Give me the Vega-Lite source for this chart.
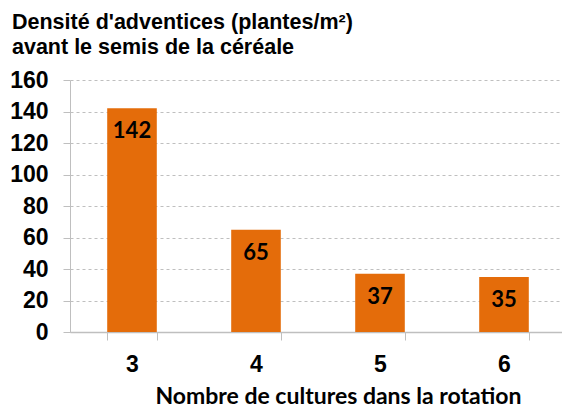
{
  "$schema": "https://vega.github.io/schema/vega-lite/v6.json",
  "width": 496,
  "height": 252,
  "autosize": "none",
  "padding": {"left": 70, "top": 80, "right": 0, "bottom": 76},
  "background": "white",
  "config": {"view": {"stroke": null}},
  "title": {
    "text": ["Densité d'adventices (plantes/m²)", "avant le semis de la céréale"],
    "anchor": "start",
    "frame": "group",
    "dx": -58,
    "offset": 11,
    "font": "Liberation Sans",
    "fontSize": 21.5,
    "fontWeight": "bold",
    "lineHeight": 25,
    "color": "black"
  },
  "data": {
    "values": [
      {"cultures": "3", "densite": 142},
      {"cultures": "4", "densite": 65},
      {"cultures": "5", "densite": 37},
      {"cultures": "6", "densite": 35}
    ]
  },
  "encoding": {
    "x": {
      "field": "cultures",
      "type": "ordinal",
      "scale": {"paddingInner": 0.6, "paddingOuter": 0.3},
      "axis": {
        "title": "Nombre de cultures dans la rotation",
        "titleFont": "Lato",
        "titleFontSize": 23,
        "titleFontWeight": "bold",
        "titleColor": "black",
        "titleX": 268,
        "titleY": 71,
        "titleAlign": "center",
        "titleBaseline": "alphabetic",
        "labelAngle": 0,
        "labelFont": "Liberation Sans",
        "labelFontSize": 23,
        "labelFontWeight": "bold",
        "labelColor": "black",
        "labelPadding": 13,
        "tickBand": "extent",
        "tickSize": 8,
        "tickColor": "#bfbfbf",
        "domainColor": "#bfbfbf",
        "domainWidth": 1.5
      }
    },
    "y": {
      "field": "densite",
      "type": "quantitative",
      "scale": {"domain": [0, 160], "nice": false},
      "axis": {
        "title": null,
        "values": [0, 20, 40, 60, 80, 100, 120, 140, 160],
        "labelFont": "Liberation Sans",
        "labelFontSize": 23,
        "labelFontWeight": "bold",
        "labelColor": "black",
        "labelPadding": 15,
        "tickSize": 7,
        "tickColor": "#bfbfbf",
        "domainColor": "#bfbfbf",
        "grid": true,
        "gridColor": "#bfbfbf",
        "gridDash": [3, 3],
        "gridWidth": 1
      }
    }
  },
  "layer": [
    {"mark": {"type": "bar", "color": "#E46C0A"}},
    {
      "mark": {
        "type": "text",
        "font": "Lato",
        "fontSize": 22,
        "fontWeight": "bold",
        "color": "black",
        "baseline": "middle",
        "dy": 23
      },
      "encoding": {"text": {"field": "densite", "type": "quantitative"}}
    }
  ]
}
